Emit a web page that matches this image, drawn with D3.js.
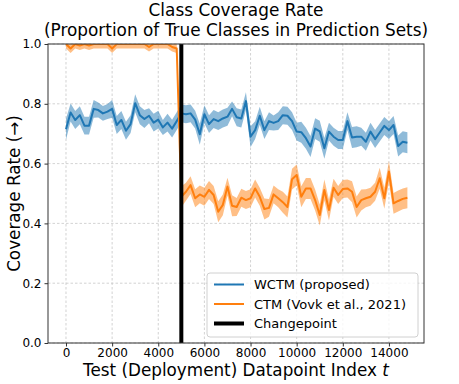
<!DOCTYPE html>
<html><head><meta charset="utf-8">
<script src="https://cdn.jsdelivr.net/npm/d3@7"></script>
<style>body{margin:0;background:#fff}svg{display:block;font-family:"DejaVu Sans",sans-serif}</style>
</head><body>
<svg id="c" width="459" height="384"></svg>
<script>
const tIndex = d3.range(0, 14801, 200);
const wctm = [0.715,0.771,0.746,0.762,0.727,0.727,0.783,0.779,0.768,0.774,0.783,0.729,0.746,0.710,0.732,0.802,0.762,0.749,0.760,0.737,0.747,0.721,0.737,0.717,0.742,
 0.768,0.765,0.768,0.747,0.698,0.765,0.732,0.749,0.742,0.751,0.757,0.783,0.755,0.751,0.809,0.690,0.712,0.760,0.712,0.742,0.736,0.742,0.762,0.760,0.742,
 0.707,0.705,0.685,0.657,0.717,0.708,0.651,0.707,0.690,0.679,0.679,0.742,0.687,0.690,0.690,0.673,0.707,0.682,0.704,0.726,0.712,0.729,0.659,0.673,0.670];
const wctmErr = [0.035,0.03,0.03,0.03,0.03,0.03,0.03,0.025,0.025,0.025,0.03,0.03,0.03,0.03,0.03,0.03,0.03,0.03,0.025,0.03,0.03,0.025,0.03,0.03,0.03,
 0.03,0.03,0.03,0.03,0.035,0.03,0.03,0.03,0.03,0.03,0.03,0.025,0.03,0.03,0.03,0.035,0.03,0.03,0.03,0.03,0.025,0.03,0.03,0.03,0.03,
 0.03,0.035,0.035,0.035,0.035,0.035,0.035,0.03,0.03,0.03,0.03,0.03,0.035,0.035,0.03,0.03,0.03,0.03,0.03,0.03,0.03,0.03,0.035,0.035,0.035];
const ctm = [1.0,0.985,1.0,0.995,1.0,0.995,1.0,1.0,1.0,1.0,0.985,1.0,1.0,1.0,1.0,1.0,1.0,1.0,0.99,1.0,1.0,1.0,1.0,0.99,0.985,
 0.489,0.506,0.528,0.484,0.497,0.489,0.512,0.495,0.439,0.462,0.523,0.459,0.455,0.486,0.478,0.484,0.517,0.489,0.448,0.452,0.497,0.484,0.471,0.455,0.548,
 0.562,0.489,0.517,0.517,0.478,0.428,0.512,0.445,0.519,0.495,0.515,0.517,0.506,0.455,0.478,0.484,0.489,0.506,0.551,0.484,0.573,0.467,0.475,0.482,0.486];
const ctmErr = [0.015,0.015,0.015,0.015,0.015,0.015,0.015,0.015,0.015,0.015,0.015,0.015,0.015,0.015,0.015,0.015,0.015,0.015,0.015,0.015,0.015,0.015,0.015,0.015,0.015,
 0.035,0.03,0.03,0.03,0.03,0.03,0.03,0.03,0.035,0.035,0.03,0.035,0.03,0.03,0.03,0.03,0.03,0.03,0.035,0.03,0.03,0.03,0.035,0.035,0.035,
 0.035,0.035,0.035,0.035,0.035,0.035,0.035,0.035,0.03,0.03,0.03,0.03,0.035,0.035,0.035,0.03,0.03,0.03,0.035,0.035,0.035,0.035,0.035,0.035,0.035];
const changepoint = 5000;
const xTicks = [0,2000,4000,6000,8000,10000,12000,14000];
const yTicks = [0,0.2,0.4,0.6,0.8,1.0];
const titleLines = ["Class Coverage Rate","(Proportion of True Classes in Prediction Sets)"];
const seriesNames = ["WCTM (proposed)","CTM (Vovk et al., 2021)","Changepoint"];
const colors = ["#1f77b4","#ff7f0e","#000000"];

const svg = d3.select("#c");
const L=48,R=424,T=44,B=343;
const x = d3.scaleLinear().domain([-780,15520]).range([L,R]);
const y = d3.scaleLinear().domain([0,1]).range([B,T]);

const defs = svg.append("defs");
defs.append("clipPath").attr("id","clip").append("rect").attr("x",L).attr("y",T).attr("width",R-L).attr("height",B-T);

// grid
const g = svg.append("g");
g.selectAll(".gx").data(xTicks).join("line").attr("x1",d=>x(d)).attr("x2",d=>x(d)).attr("y1",T).attr("y2",B)
 .attr("stroke","#c8c8c8").attr("stroke-width",0.8).attr("stroke-dasharray","2.5,2");
g.selectAll(".gy").data(yTicks).join("line").attr("y1",d=>y(d)).attr("y2",d=>y(d)).attr("x1",L).attr("x2",R)
 .attr("stroke","#c8c8c8").attr("stroke-width",0.8).attr("stroke-dasharray","2.5,2");

const plot = svg.append("g").attr("clip-path","url(#clip)");
function drawSeries(vals, err, col){
  const d = tIndex.map((t,i)=>({t, v:vals[i], e:err[i]}));
  plot.append("path").datum(d).attr("fill",col).attr("fill-opacity",0.5)
   .attr("d", d3.area().x(p=>x(p.t)).y0(p=>y(p.v-p.e)).y1(p=>y(p.v+p.e)));
  plot.append("path").datum(d).attr("fill","none").attr("stroke",col).attr("stroke-width",2)
   .attr("stroke-linejoin","round")
   .attr("d", d3.line().x(p=>x(p.t)).y(p=>y(p.v)));
}
drawSeries(wctm, wctmErr, colors[0]);
drawSeries(ctm, ctmErr, colors[1]);
plot.append("line").attr("x1",x(changepoint)).attr("x2",x(changepoint)).attr("y1",T).attr("y2",B)
 .attr("stroke","#000").attr("stroke-width",4);

// axes
const xa = svg.append("g").attr("transform",`translate(0,${B})`)
 .call(d3.axisBottom(x).tickValues(xTicks).tickFormat(d3.format("d")).tickSize(3.5).tickPadding(2));
const ya = svg.append("g").attr("transform",`translate(${L},0)`)
 .call(d3.axisLeft(y).tickValues(yTicks).tickFormat(d3.format(".1f")).tickSize(3.5).tickPadding(3));
[xa,ya].forEach(a=>{a.select(".domain").remove(); a.selectAll("text").attr("font-size",12).attr("fill","#000").attr("font-family","DejaVu Sans"); a.selectAll("line").attr("stroke","#333");});
// spines
svg.append("rect").attr("x",L).attr("y",T).attr("width",R-L).attr("height",B-T).attr("fill","none").attr("stroke","#333").attr("stroke-width",1);

// title
const tfs = 16.9;
titleLines.forEach((s,i)=>{
  svg.append("text").attr("x",(L+R)/2).attr("y",15.8 + i*19.7).attr("text-anchor","middle").attr("font-size",tfs).text(s);
});

const xl = svg.append("text").attr("x",(L+R)/2).attr("y",376).attr("text-anchor","middle").attr("font-size",16.8);
xl.append("tspan").text("Test (Deployment) Datapoint Index ");
xl.append("tspan").attr("font-style","italic").text("t");
svg.append("text").attr("transform",`translate(20,${(T+B)/2}) rotate(-90)`).attr("text-anchor","middle").attr("font-size",16.8).text("Coverage Rate (→)");

// legend
const lg = svg.append("g");
lg.append("rect").attr("x",207).attr("y",273).attr("width",211).attr("height",64).attr("rx",3)
 .attr("fill","#fff").attr("fill-opacity",0.8).attr("stroke","#d0d0d0").attr("stroke-width",1);
const widths=[2,2,4];
seriesNames.forEach((n,i)=>{
  const yy = 284.5 + i*19.5;
  lg.append("line").attr("x1",214).attr("x2",244).attr("y1",yy).attr("y2",yy).attr("stroke",colors[i]).attr("stroke-width",widths[i]);
  lg.append("text").attr("x",254).attr("y",yy+4.5).attr("font-size",13).text(n);
});
</script>
</body></html>
